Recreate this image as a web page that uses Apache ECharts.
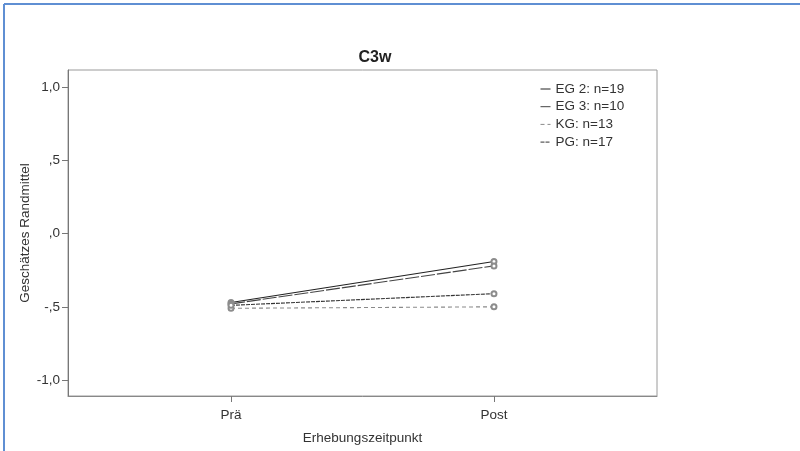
<!DOCTYPE html>
<html>
<head>
<meta charset="utf-8">
<script src="https://cdn.jsdelivr.net/npm/echarts@6/dist/echarts.min.js"></script>
<style>
  html, body { margin: 0; padding: 0; background: #fff; }
  #chart { width: 800px; height: 451px; }
</style>
</head>
<body>
<div id="chart"></div>
<script>
// Messzeitpunkte und geschätzte Randmittel je Gruppe
var zeitpunkte = ['Prä', 'Post'];
var gruppen = ['EG 2: n=19', 'EG 3: n=10', 'KG: n=13', 'PG: n=17'];
var eg2 = [-0.47, -0.19];
var eg3 = [-0.48, -0.22];
var kg = [-0.51, -0.50];
var pg = [-0.49, -0.41];
var yTicks = [-1.0, -0.5, 0, 0.5, 1.0];

var FONT = 'Liberation Sans, Arial, sans-serif';

function deZahl(v) {
    var s = Math.abs(v).toFixed(1).replace('.', ',');
    if (s.indexOf('0,') === 0) s = s.substring(1);
    return (v < 0 ? '-' : '') + s;
}

function punkte(arr) {
    var out = [];
    for (var i = 0; i < arr.length; i++) out.push([i, arr[i]]);
    return out;
}

function linie(name, werte, farbe, typ) {
    return {
        name: name,
        type: 'line',
        data: punkte(werte),
        symbol: 'emptyCircle',
        symbolSize: 5,
        showSymbol: true,
        itemStyle: { color: '#8c8c8c', borderWidth: 0.8 },
        lineStyle: { color: farbe, width: 1.1, type: typ },
        emphasis: { disabled: true },
        z: 3
    };
}

var myChart = echarts.init(document.getElementById('chart'));

var option = {
    backgroundColor: '#fff',
    animation: false,
    title: {
        text: 'C3w',
        left: 370,
        textAlign: 'center',
        top: 45,
        textStyle: { fontFamily: FONT, fontSize: 16, fontWeight: 'bold', color: '#222' }
    },
    legend: {
        orient: 'vertical',
        left: 535,
        top: 76,
        itemWidth: 10,
        itemHeight: 10,
        itemGap: 1.7,
        itemStyle: { opacity: 0 },
        lineStyle: { width: 1 },
        textStyle: { fontFamily: FONT, fontSize: 13.5, color: '#333', lineHeight: 16 },
        data: gruppen
    },
    grid: {
        left: 68,
        right: 143,
        top: 70,
        bottom: 55,
        show: true,
        borderColor: '#9a9a9a',
        borderWidth: 1
    },
    xAxis: {
        type: 'value',
        min: -0.62,
        max: 1.62,
        name: 'Erhebungszeitpunkt',
        nameLocation: 'middle',
        nameGap: 35,
        nameTextStyle: { fontFamily: FONT, fontSize: 13.5, color: '#333' },
        axisLine: { show: true, onZero: false, lineStyle: { color: '#888' } },
        axisTick: { show: true, length: 6, customValues: [0, 1], lineStyle: { color: '#777' } },
        axisLabel: {
            customValues: [0, 1],
            margin: 12,
            fontFamily: FONT, fontSize: 13.5, color: '#333',
            formatter: function (v) { return zeitpunkte[Math.round(v)]; }
        },
        splitLine: { show: false }
    },
    yAxis: {
        type: 'value',
        min: -1.11,
        max: 1.12,
        name: 'Geschätzes Randmittel',
        nameLocation: 'middle',
        nameGap: 36,
        nameRotate: 90,
        nameMoveOverlap: false,
        nameTextStyle: { fontFamily: FONT, fontSize: 13.5, color: '#333' },
        axisLine: { show: true, onZero: false, lineStyle: { color: '#777' } },
        axisTick: { show: true, length: 6, customValues: yTicks, lineStyle: { color: '#777' } },
        axisLabel: {
            customValues: yTicks,
            margin: 8,
            fontFamily: FONT, fontSize: 13.5, color: '#333',
            formatter: deZahl
        },
        splitLine: { show: false }
    },
    graphic: [
        { type: 'line', shape: { x1: 4, y1: 4, x2: 800, y2: 4 }, style: { stroke: '#5f8fd3', lineWidth: 2 } },
        { type: 'line', shape: { x1: 4, y1: 4, x2: 4, y2: 451 }, style: { stroke: '#5f8fd3', lineWidth: 2 } }
    ],
    series: [
        linie(gruppen[0], eg2, '#222', 'solid'),
        linie(gruppen[1], eg3, '#444', [14, 2]),
        linie(gruppen[2], kg, '#8a8a8a', [4, 3]),
        linie(gruppen[3], pg, '#333', [4, 1])
    ]
};

myChart.setOption(option);
</script>
</body>
</html>
